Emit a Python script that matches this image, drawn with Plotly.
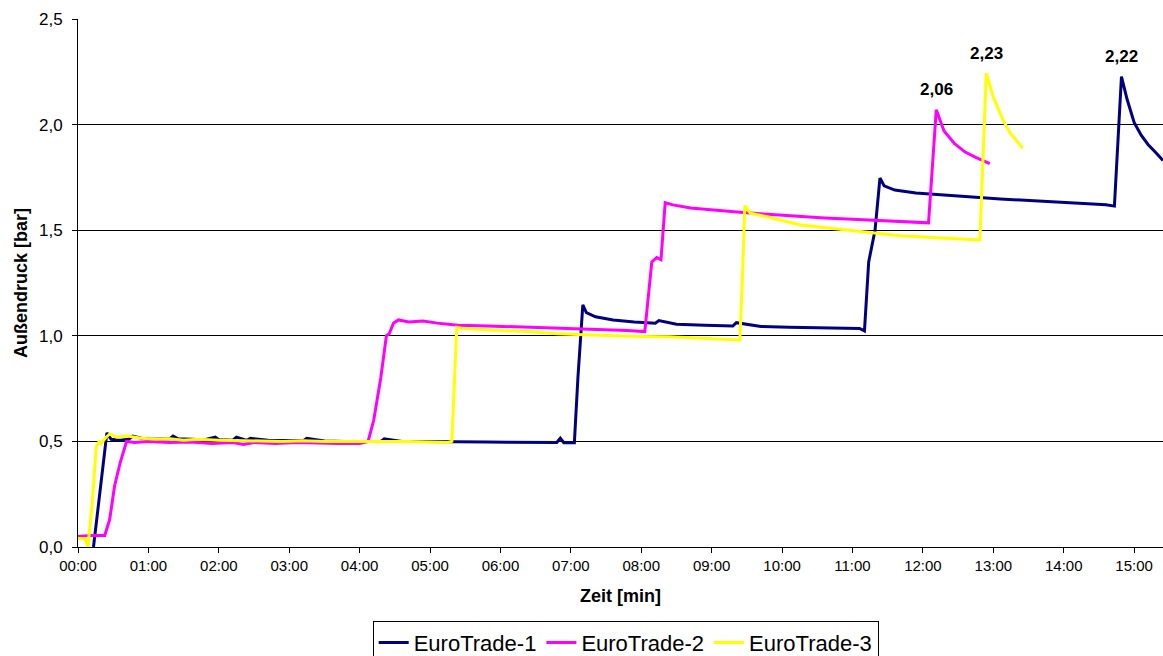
import plotly.graph_objects as go

# time in minutes, pressure in bar
t1 = [0.22, 0.41, 0.47, 0.6, 0.72, 0.78, 0.9, 1.05, 1.3, 1.35, 1.42, 1.6, 1.8, 1.95, 2.0, 2.2, 2.25,
      2.4, 2.45, 2.7, 2.9, 3.2, 3.25, 3.5, 3.8, 4.0, 4.3, 4.35, 4.6, 4.9, 5.2, 5.5, 5.8, 6.1, 6.5,
      6.8, 6.85, 6.9, 7.05, 7.1, 7.17, 7.22, 7.35, 7.6, 7.9, 8.2, 8.25, 8.5, 8.9, 9.3, 9.35, 9.7,
      10.1, 10.5, 10.9, 11.1, 11.17, 11.23, 11.32, 11.39, 11.45, 11.6, 11.9, 12.3, 12.7, 13.1, 13.5,
      13.9, 14.3, 14.6, 14.72, 14.82, 14.9, 15.0, 15.1, 15.2, 15.3, 15.41]
p1 = [0.00, 0.54, 0.51, 0.505, 0.51, 0.525, 0.515, 0.51, 0.512, 0.525, 0.512, 0.51, 0.508, 0.52,
      0.508, 0.506, 0.52, 0.505, 0.515, 0.505, 0.503, 0.503, 0.515, 0.502, 0.50, 0.50, 0.50, 0.512,
      0.50, 0.50, 0.498, 0.498, 0.497, 0.496, 0.496, 0.495, 0.515, 0.494, 0.494, 0.80, 1.146, 1.11,
      1.09, 1.075, 1.065, 1.06, 1.072, 1.055, 1.05, 1.046, 1.062, 1.044, 1.04, 1.038, 1.036, 1.035,
      1.023, 1.35, 1.50, 1.747, 1.71, 1.69, 1.676, 1.665, 1.657, 1.648, 1.64, 1.633, 1.625, 1.62,
      1.614, 2.227, 2.12, 2.01, 1.95, 1.905, 1.87, 1.83]

t2 = [0.0, 0.18, 0.38, 0.45, 0.52, 0.6, 0.69, 0.8, 1.0, 1.3, 1.6, 1.9, 2.2, 2.35, 2.5, 2.8, 3.1,
      3.4, 3.7, 4.0, 4.12, 4.2, 4.3, 4.38, 4.42, 4.48, 4.55, 4.7, 4.9, 5.1, 5.4, 5.7, 6.0, 6.3, 6.6,
      6.9, 7.2, 7.5, 7.8, 8.05, 8.1, 8.15, 8.22, 8.28, 8.34, 8.45, 8.7, 9.0, 9.4, 9.8, 10.2, 10.6,
      11.0, 11.4, 11.8, 12.08, 12.19, 12.3, 12.45, 12.6, 12.75, 12.9, 12.95]
p2 = [0.05, 0.055, 0.055, 0.13, 0.29, 0.40, 0.50, 0.495, 0.50, 0.495, 0.497, 0.49, 0.495, 0.485,
      0.495, 0.49, 0.495, 0.492, 0.49, 0.49, 0.50, 0.60, 0.80, 1.00, 1.01, 1.06, 1.075, 1.065, 1.07,
      1.06, 1.05, 1.048, 1.045, 1.04, 1.036, 1.035, 1.03, 1.028, 1.025, 1.02, 1.2, 1.35, 1.37, 1.36,
      1.63, 1.62, 1.605, 1.595, 1.585, 1.575, 1.565, 1.558, 1.552, 1.545, 1.54, 1.535, 2.07, 1.97,
      1.91, 1.87, 1.845, 1.825, 1.815]

t3 = [0.0, 0.1, 0.14, 0.2, 0.26, 0.3, 0.33, 0.4, 0.45, 0.55, 0.7, 0.9, 1.1, 1.3, 1.5, 1.7, 2.0,
      2.3, 2.6, 2.9, 3.2, 3.5, 3.8, 4.1, 4.4, 4.7, 5.0, 5.25, 5.31, 5.35, 5.38, 5.45, 5.7, 6.0, 6.4,
      6.8, 7.2, 7.6, 8.0, 8.4, 8.8, 9.2, 9.4, 9.44, 9.47, 9.55, 9.77, 10.26, 10.97, 11.68, 12.4,
      12.81, 12.86, 12.9, 13.0, 13.14, 13.24, 13.42]
p3 = [0.04, 0.04, 0.0, 0.2, 0.475, 0.50, 0.49, 0.52, 0.535, 0.52, 0.525, 0.515, 0.51, 0.512, 0.505,
      0.51, 0.505, 0.505, 0.502, 0.50, 0.503, 0.50, 0.50, 0.50, 0.503, 0.50, 0.497, 0.495, 0.50,
      0.80, 1.04, 1.035, 1.03, 1.025, 1.02, 1.01, 1.005, 1.0, 0.997, 0.995, 0.99, 0.985, 0.98, 1.3,
      1.616, 1.58, 1.565, 1.525, 1.50, 1.474, 1.461, 1.454, 1.9, 2.243, 2.13, 2.02, 1.96, 1.888]

names = ["EuroTrade-1", "EuroTrade-2", "EuroTrade-3"]
colors = ["#000080", "#FF00FF", "#FFFF00"]

peak_t = [12.19, 12.9, 14.82]
peak_p = [2.07, 2.243, 2.227]
peak_labels = ["2,06", "2,23", "2,22"]

x_tickvals = list(range(16))
x_ticktext = ["%02d:00" % m for m in x_tickvals]

fig = go.Figure()
for t, p, n, c in zip([t1, t2, t3], [p1, p2, p3], names, colors):
    fig.add_trace(go.Scatter(x=t, y=p, name=n, mode="lines",
                             line=dict(color=c, width=3)))

for t, p, s in zip(peak_t, peak_p, peak_labels):
    fig.add_annotation(x=t, y=p, text="<b>%s</b>" % s, showarrow=False,
                       yshift=20, font=dict(size=17, color="black"))

fig.update_layout(
    width=1163, height=656,
    margin=dict(l=78, r=0, t=19, b=109),
    paper_bgcolor="white", plot_bgcolor="white",
    font=dict(family="Arial, Liberation Sans, sans-serif", color="black"),
    separators=",.",
    showlegend=True,
    legend=dict(orientation="h", xref="container", yref="container",
                x=0.538, xanchor="center", y=0.054, yanchor="top",
                bordercolor="black", borderwidth=1, font=dict(size=22),
                itemwidth=30, tracegroupgap=0),
)
fig.update_xaxes(range=[0, 15.41], tickvals=x_tickvals, ticktext=x_ticktext,
                 tickfont=dict(size=15), ticks="outside", ticklen=5, tickcolor="black",
                 showline=True, linecolor="black", showgrid=False, zeroline=False,
                 title=dict(text="<b>Zeit [min]</b>", font=dict(size=18), standoff=16))
fig.update_yaxes(range=[0, 2.5], dtick=0.5, tickformat=".1f", tickfont=dict(size=17),
                 ticks="outside", ticklen=5, tickcolor="black", ticklabelstandoff=6,
                 showline=True, linecolor="black", showgrid=True, gridcolor="black",
                 gridwidth=1, zeroline=False,
                 title=dict(text="<b>Außendruck [bar]</b>", font=dict(size=18), standoff=6))

# drop the default page margin so the figure fills the window exactly
fig.write_html("out.html", config={"displayModeBar": False},
               post_script="document.body.style.margin='0';document.body.style.overflow='hidden';")
